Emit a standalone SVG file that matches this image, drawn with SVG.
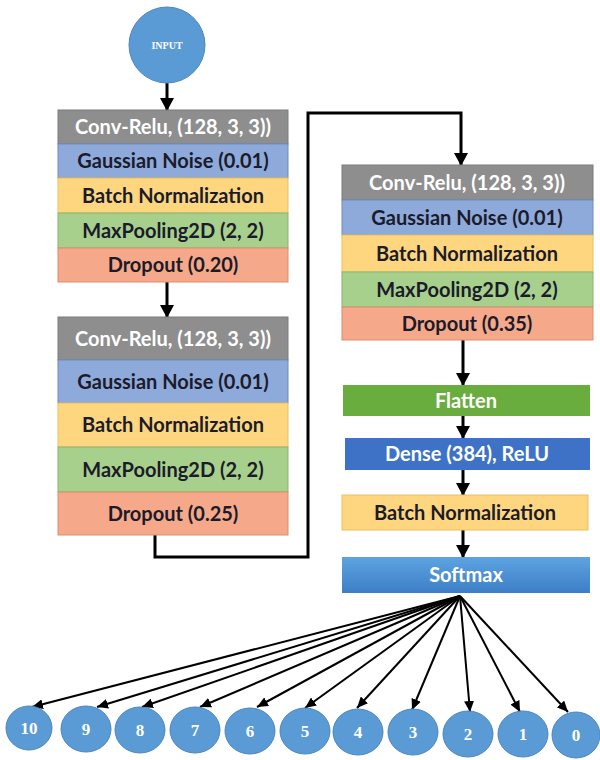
<svg xmlns="http://www.w3.org/2000/svg" width="600" height="760" viewBox="0 0 600 760">
<style>
.lbl{font-family:Lato,"Open Sans","Liberation Sans",sans-serif;font-weight:bold;font-size:20px;text-anchor:middle}
.dk{fill:#1b1b2a}
.wt{fill:#ffffff}
.conv{fill:#8e8e8e;stroke:#7a7a7a}
.gauss{fill:#8eaadb;stroke:#6f8cc0}
.batch{fill:#fed67f;stroke:#e9c060}
.pool{fill:#a8d08d;stroke:#8ab56e}
.drop{fill:#f5a98a;stroke:#dc8d6e}
.num{font-family:"Liberation Serif",serif;font-weight:bold;font-size:17px;fill:#ffffff;text-anchor:middle}
.circ{fill:#5b9bd5;stroke:#4a86bf;stroke-width:1}
.conn{stroke:#000;stroke-width:3;fill:none}
.fan{stroke:#000;stroke-width:2;fill:none}
</style>
<defs>
<marker id="ah" markerUnits="userSpaceOnUse" markerWidth="14" markerHeight="14" refX="12" refY="7" orient="auto">
<path d="M0,0 L13,7 L0,14 Z" fill="#000"/>
</marker>
<marker id="ahs" markerUnits="userSpaceOnUse" markerWidth="12" markerHeight="10" refX="11" refY="5" orient="auto">
<path d="M0,0 L11,5 L0,10 Z" fill="#000"/>
</marker>
<linearGradient id="sm" x1="0" y1="0" x2="0" y2="1">
<stop offset="0" stop-color="#5ea3e0"/>
<stop offset="1" stop-color="#3c7fc8"/>
</linearGradient>
</defs>

<g id="connectors">
<line class="conn" x1="167" y1="83" x2="167" y2="110" marker-end="url(#ah)"/>
<line class="conn" x1="167" y1="282" x2="167" y2="317" marker-end="url(#ah)"/>
<path class="conn" d="M155,535 V557 H308 V113 H461 V165" marker-end="url(#ah)"/>
<line class="conn" x1="463" y1="340" x2="463" y2="385" marker-end="url(#ah)"/>
<line class="conn" x1="463" y1="416" x2="463" y2="438" marker-end="url(#ah)"/>
<line class="conn" x1="463" y1="470" x2="463" y2="495" marker-end="url(#ah)"/>
<line class="conn" x1="463" y1="530" x2="463" y2="557" marker-end="url(#ah)"/>
<g class="fan">
<line x1="460" y1="596" x2="32" y2="707" marker-end="url(#ahs)"/>
<line x1="460" y1="596" x2="97" y2="707" marker-end="url(#ahs)"/>
<line x1="460" y1="596" x2="142" y2="707" marker-end="url(#ahs)"/>
<line x1="460" y1="596" x2="200" y2="707" marker-end="url(#ahs)"/>
<line x1="460" y1="596" x2="257" y2="707" marker-end="url(#ahs)"/>
<line x1="460" y1="596" x2="305" y2="708" marker-end="url(#ahs)"/>
<line x1="460" y1="596" x2="357" y2="708" marker-end="url(#ahs)"/>
<line x1="460" y1="596" x2="412" y2="710" marker-end="url(#ahs)"/>
<line x1="460" y1="596" x2="470" y2="712" marker-end="url(#ahs)"/>
<line x1="460" y1="596" x2="520" y2="712" marker-end="url(#ahs)"/>
<line x1="460" y1="596" x2="568" y2="712" marker-end="url(#ahs)"/>
</g>
</g>

<g id="input">
<circle cx="167" cy="45" r="38" class="circ"/>
<text x="167" y="49" font-family="Liberation Serif,serif" font-weight="bold" font-size="10" fill="#fff" text-anchor="middle">INPUT</text>
</g>

<g id="block1">
<rect class="conv" x="58" y="110" width="230" height="34"/>
<text class="lbl wt" x="173" y="134">Conv-Relu, (128, 3, 3))</text>
<rect class="gauss" x="58" y="144" width="230" height="34"/>
<text class="lbl dk" x="173" y="168">Gaussian Noise (0.01)</text>
<rect class="batch" x="58" y="178" width="230" height="35"/>
<text class="lbl dk" x="173" y="202.5">Batch Normalization</text>
<rect class="pool" x="58" y="213" width="230" height="35"/>
<text class="lbl dk" x="173" y="237.5">MaxPooling2D (2, 2)</text>
<rect class="drop" x="58" y="248" width="230" height="34"/>
<text class="lbl dk" x="173" y="272">Dropout (0.20)</text>
</g>

<g id="block2">
<rect class="conv" x="58" y="317" width="230" height="43"/>
<text class="lbl wt" x="173" y="345.5">Conv-Relu, (128, 3, 3))</text>
<rect class="gauss" x="58" y="360" width="230" height="43"/>
<text class="lbl dk" x="173" y="388.5">Gaussian Noise (0.01)</text>
<rect class="batch" x="58" y="403" width="230" height="44"/>
<text class="lbl dk" x="173" y="432">Batch Normalization</text>
<rect class="pool" x="58" y="447" width="230" height="45"/>
<text class="lbl dk" x="173" y="476.5">MaxPooling2D (2, 2)</text>
<rect class="drop" x="58" y="492" width="230" height="43"/>
<text class="lbl dk" x="173" y="520.5">Dropout (0.25)</text>
</g>

<g id="block3">
<rect class="conv" x="342" y="165" width="251" height="35"/>
<text class="lbl wt" x="467" y="189.5">Conv-Relu, (128, 3, 3))</text>
<rect class="gauss" x="342" y="200" width="251" height="35"/>
<text class="lbl dk" x="467" y="224.5">Gaussian Noise (0.01)</text>
<rect class="batch" x="342" y="235" width="251" height="37"/>
<text class="lbl dk" x="467" y="260.5">Batch Normalization</text>
<rect class="pool" x="342" y="272" width="251" height="35"/>
<text class="lbl dk" x="467" y="296.5">MaxPooling2D (2, 2)</text>
<rect class="drop" x="342" y="307" width="251" height="33"/>
<text class="lbl dk" x="467" y="330.5">Dropout (0.35)</text>
</g>

<g id="flatten">
<rect x="343" y="385" width="247" height="31" fill="#6aad3f"/>
<text class="lbl wt" x="466" y="407.5">Flatten</text>
</g>
<g id="dense">
<rect x="345" y="438" width="245" height="32" fill="#3d72c6"/>
<text class="lbl wt" x="467" y="461">Dense (384), ReLU</text>
</g>
<g id="batchnorm">
<rect x="342" y="495" width="246" height="35" fill="#fed67f" stroke="#e9c060"/>
<text class="lbl dk" x="465" y="519.5">Batch Normalization</text>
</g>
<g id="softmax">
<rect x="342" y="557" width="248" height="36" fill="url(#sm)"/>
<text class="lbl wt" x="466" y="582">Softmax</text>
</g>

<g id="out10"><ellipse class="circ" cx="29" cy="728" rx="23" ry="22"/><text class="num" x="29" y="734" font-size="14">10</text></g>
<g id="out9"><ellipse class="circ" cx="86" cy="729" rx="25" ry="23"/><text class="num" x="86" y="735">9</text></g>
<g id="out8"><ellipse class="circ" cx="140" cy="730" rx="25" ry="23"/><text class="num" x="140" y="736">8</text></g>
<g id="out7"><ellipse class="circ" cx="195" cy="730" rx="25" ry="23"/><text class="num" x="195" y="736">7</text></g>
<g id="out6"><ellipse class="circ" cx="250" cy="731" rx="25" ry="23"/><text class="num" x="250" y="737">6</text></g>
<g id="out5"><ellipse class="circ" cx="305" cy="731" rx="25" ry="23"/><text class="num" x="305" y="737">5</text></g>
<g id="out4"><ellipse class="circ" cx="358" cy="732" rx="25" ry="23"/><text class="num" x="358" y="738">4</text></g>
<g id="out3"><ellipse class="circ" cx="413" cy="732" rx="25" ry="23"/><text class="num" x="413" y="738">3</text></g>
<g id="out2"><ellipse class="circ" cx="468" cy="734" rx="25" ry="23"/><text class="num" x="468" y="740">2</text></g>
<g id="out1"><ellipse class="circ" cx="523" cy="734" rx="25" ry="23"/><text class="num" x="523" y="740">1</text></g>
<g id="out0"><ellipse class="circ" cx="576" cy="735" rx="24" ry="23"/><text class="num" x="576" y="741">0</text></g>
</svg>
